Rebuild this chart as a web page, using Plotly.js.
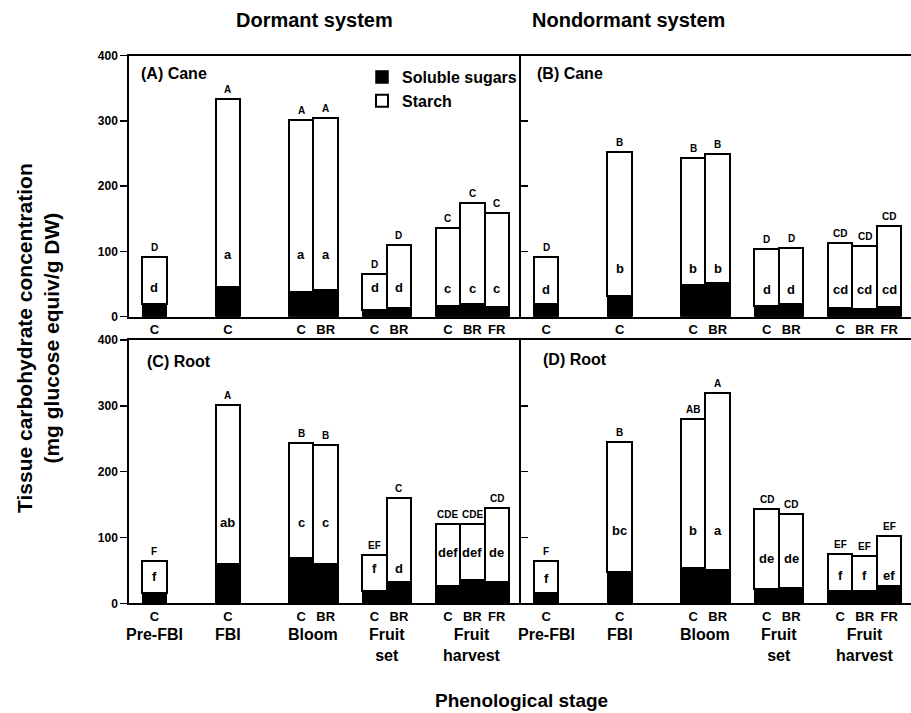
<!DOCTYPE html>
<html>
<head>
<meta charset="utf-8">
<script src="https://cdn.plot.ly/plotly-3.0.1.min.js"></script>
<style>html,body{margin:0;padding:0;background:#fff;}#chart{width:911px;height:713px;}</style>
</head>
<body>
<div id="chart"></div>
<script>
// ---------------- DATA ----------------
const stages = ["Pre-FBI", "FBI", "Bloom", "Fruit<br>set", "Fruit<br>harvest"];
const stageTreatments = [["C"], ["C"], ["C", "BR"], ["C", "BR"], ["C", "BR", "FR"]];
const columnTitles = ["Dormant system", "Nondormant system"];
const panelNames = ["(A) Cane", "(B) Cane", "(C) Root", "(D) Root"];
const seriesNames = ["Soluble sugars", "Starch"];

// mg glucose equiv / g DW, one value per bar (stage/treatment order above)
const sugarsA = [19, 45, 38, 41, 10, 14, 17, 19, 15];
const starchA = [72, 289, 264, 263, 55, 96, 119, 155, 144];
const sugarsB = [20, 31, 48, 51, 16, 19, 13, 12, 15];
const starchB = [72, 221, 195, 199, 88, 86, 100, 97, 124];
const sugarsC = [16, 59, 69, 59, 18, 33, 27, 35, 33];
const starchC = [48, 242, 175, 182, 55, 127, 94, 85, 112];
const sugarsD = [16, 47, 53, 51, 21, 23, 19, 19, 26];
const starchD = [48, 198, 227, 269, 122, 112, 56, 53, 76];

// mean-separation letters: total (upper case) and starch (lower case)
const totalLettersA = ["D", "A", "A", "A", "D", "D", "C", "C", "C"];
const starchLettersA = ["d", "a", "a", "a", "d", "d", "c", "c", "c"];
const totalLettersB = ["D", "B", "B", "B", "D", "D", "CD", "CD", "CD"];
const starchLettersB = ["d", "b", "b", "b", "d", "d", "cd", "cd", "cd"];
const totalLettersC = ["F", "A", "B", "B", "EF", "C", "CDE", "CDE", "CD"];
const starchLettersC = ["f", "ab", "c", "c", "f", "d", "def", "def", "de"];
const totalLettersD = ["F", "B", "AB", "A", "CD", "CD", "EF", "EF", "EF"];
const starchLettersD = ["f", "bc", "b", "a", "de", "de", "f", "f", "ef"];

// ---------------- LAYOUT SETTINGS ----------------
const W = 911, H = 713;
const FONT = '"Liberation Sans", Arial, Helvetica, sans-serif';
const groupStart = [1, 4, 7, 10, 13];          // slot where each stage's bars begin
// height (data units) at which the starch letter is written inside each bar
const starchLetterHeight = [
  [44, 95, 95, 95, 44, 44, 43, 43, 43],
  [42, 74, 74, 74, 41, 41, 41, 41, 41],
  [40, 123, 123, 123, 53, 53, 77, 77, 77],
  [38, 111, 111, 111, 68, 68, 43, 43, 43]
];

const px = v => v / W;
const py = v => 1 - v / H;

// bar slots and tick labels derived from the stage structure
const barX = [], barTick = [], stageCenter = [];
stageTreatments.forEach((tr, g) => {
  tr.forEach((t, k) => { barX.push(groupStart[g] + k); barTick.push("<b>" + t + "</b>"); });
  stageCenter.push(groupStart[g] + (tr.length - 1) / 2);
});

const panels = [
  {sug: sugarsA, sta: starchA, up: totalLettersA, lo: starchLettersA, ax: ""},
  {sug: sugarsB, sta: starchB, up: totalLettersB, lo: starchLettersB, ax: "2"},
  {sug: sugarsC, sta: starchC, up: totalLettersC, lo: starchLettersC, ax: "3"},
  {sug: sugarsD, sta: starchD, up: totalLettersD, lo: starchLettersD, ax: "4"}
];

const traces = [];
const annotations = [];
panels.forEach((p, i) => {
  traces.push({
    type: "bar", x: barX, y: p.sug, name: seriesNames[0], width: 1,
    xaxis: "x" + p.ax, yaxis: "y" + p.ax, showlegend: i === 0, legendgroup: "s",
    marker: {color: "#000", line: {color: "#000", width: 1.5}}, hoverinfo: "y"
  });
  traces.push({
    type: "bar", x: barX, y: p.sta, name: seriesNames[1], width: 1,
    xaxis: "x" + p.ax, yaxis: "y" + p.ax, showlegend: i === 0, legendgroup: "t",
    marker: {color: "#fff", line: {color: "#000", width: 2}}, hoverinfo: "y"
  });
  barX.forEach((x, j) => {
    annotations.push({
      xref: "x" + p.ax, yref: "y" + p.ax, x: x, y: p.sug[j] + p.sta[j],
      text: "<b>" + p.up[j] + "</b>", showarrow: false, yanchor: "bottom", yshift: 2,
      font: {size: 10, color: "#000", family: FONT}
    });
    annotations.push({
      xref: "x" + p.ax, yref: "y" + p.ax, x: x, y: starchLetterHeight[i][j],
      text: "<b>" + p.lo[j] + "</b>", showarrow: false, yanchor: "middle",
      font: {size: 13, color: "#000", family: FONT}
    });
  });
});

// panel labels
const panelLabelPos = [[0.026, 0.933], [0.037, 0.933], [0.040, 0.918], [0.051, 0.927]];
panels.forEach((p, i) => {
  annotations.push({
    xref: "x" + p.ax + " domain", yref: "y" + p.ax + " domain",
    x: panelLabelPos[i][0], y: panelLabelPos[i][1], xanchor: "left", yanchor: "middle",
    text: "<b>" + panelNames[i] + "</b>", showarrow: false,
    font: {size: 16, color: "#000", family: FONT}
  });
});

// stage names under the bottom panels
["3", "4"].forEach(ax => {
  stages.forEach((s, g) => {
    annotations.push({
      xref: "x" + ax, yref: "paper", x: stageCenter[g], y: py(624), yanchor: "top",
      text: "<b>" + s + "</b>", showarrow: false,
      font: {size: 16, color: "#000", family: FONT}
    });
  });
});

// column titles and axis titles
annotations.push({xref: "paper", yref: "paper", x: px(314), y: py(20), yanchor: "middle",
  text: "<b>" + columnTitles[0] + "</b>", showarrow: false, font: {size: 20, color: "#000", family: FONT}});
annotations.push({xref: "paper", yref: "paper", x: px(727), y: py(20), yanchor: "middle",
  text: "<b>" + columnTitles[1] + "</b>", showarrow: false, font: {size: 20, color: "#000", family: FONT}});
annotations.push({xref: "paper", yref: "paper", x: px(38), y: py(338), xanchor: "center", yanchor: "middle",
  textangle: -90, text: "<b>Tissue carbohydrate concentration<br>(mg glucose equiv/g DW)</b>",
  showarrow: false, font: {size: 21, color: "#000", family: FONT}});
annotations.push({xref: "paper", yref: "paper", x: px(521), y: py(700), yanchor: "middle",
  text: "<b>Phenological stage</b>", showarrow: false, font: {size: 19, color: "#000", family: FONT}});

const xDomL = [px(129.3), px(521)], xDomR = [px(521), 1];
const yDomT = [py(316.7), py(55.7)], yDomB = [py(603.3), py(340)];

function xAxis(dom, anchor, range) {
  return {domain: dom, anchor: anchor, range: range, tickmode: "array", tickvals: barX, ticktext: barTick,
    ticks: "", showline: true, mirror: true, linecolor: "#000", linewidth: 2, showgrid: false, zeroline: false,
    tickfont: {size: 13, color: "#000", family: FONT}, fixedrange: true};
}
function yAxis(dom, anchor, left) {
  return {domain: dom, anchor: anchor, range: [0, 400], tickmode: "array", tickvals: [0, 100, 200, 300, 400],
    ticktext: ["<b>0</b>", "<b>100</b>", "<b>200</b>", "<b>300</b>", "<b>400</b>"],
    ticks: left ? "outside" : "inside", ticklen: 7, tickwidth: 1.5, tickcolor: "#000",
    showticklabels: left, showline: true, linecolor: "#000", linewidth: 2, showgrid: false, zeroline: false,
    tickfont: {size: 12, color: "#000", family: FONT}, fixedrange: true};
}

const layout = {
  width: W, height: H, margin: {l: 0, r: 0, t: 0, b: 0},
  paper_bgcolor: "#fff", plot_bgcolor: "rgba(0,0,0,0)",
  font: {family: FONT, color: "#000"},
  barmode: "stack", bargap: 0,
  showlegend: true,
  legend: {x: px(362), y: py(60), xanchor: "left", yanchor: "top", traceorder: "normal",
    bgcolor: "rgba(0,0,0,0)", font: {size: 16, color: "#000", family: FONT, weight: "bold"}, tracegroupgap: 2},
  xaxis: xAxis(xDomL, "y", [-0.03, 15.99]),
  xaxis2: xAxis(xDomR, "y2", [-0.03, 15.89]),
  xaxis3: xAxis(xDomL, "y3", [-0.03, 15.99]),
  xaxis4: xAxis(xDomR, "y4", [-0.03, 15.89]),
  yaxis: yAxis(yDomT, "x", true),
  yaxis2: yAxis(yDomT, "x2", false),
  yaxis3: yAxis(yDomB, "x3", true),
  yaxis4: yAxis(yDomB, "x4", false),
  annotations: annotations
};

Plotly.newPlot("chart", traces, layout, {staticPlot: true, displayModeBar: false});
</script>
</body>
</html>
